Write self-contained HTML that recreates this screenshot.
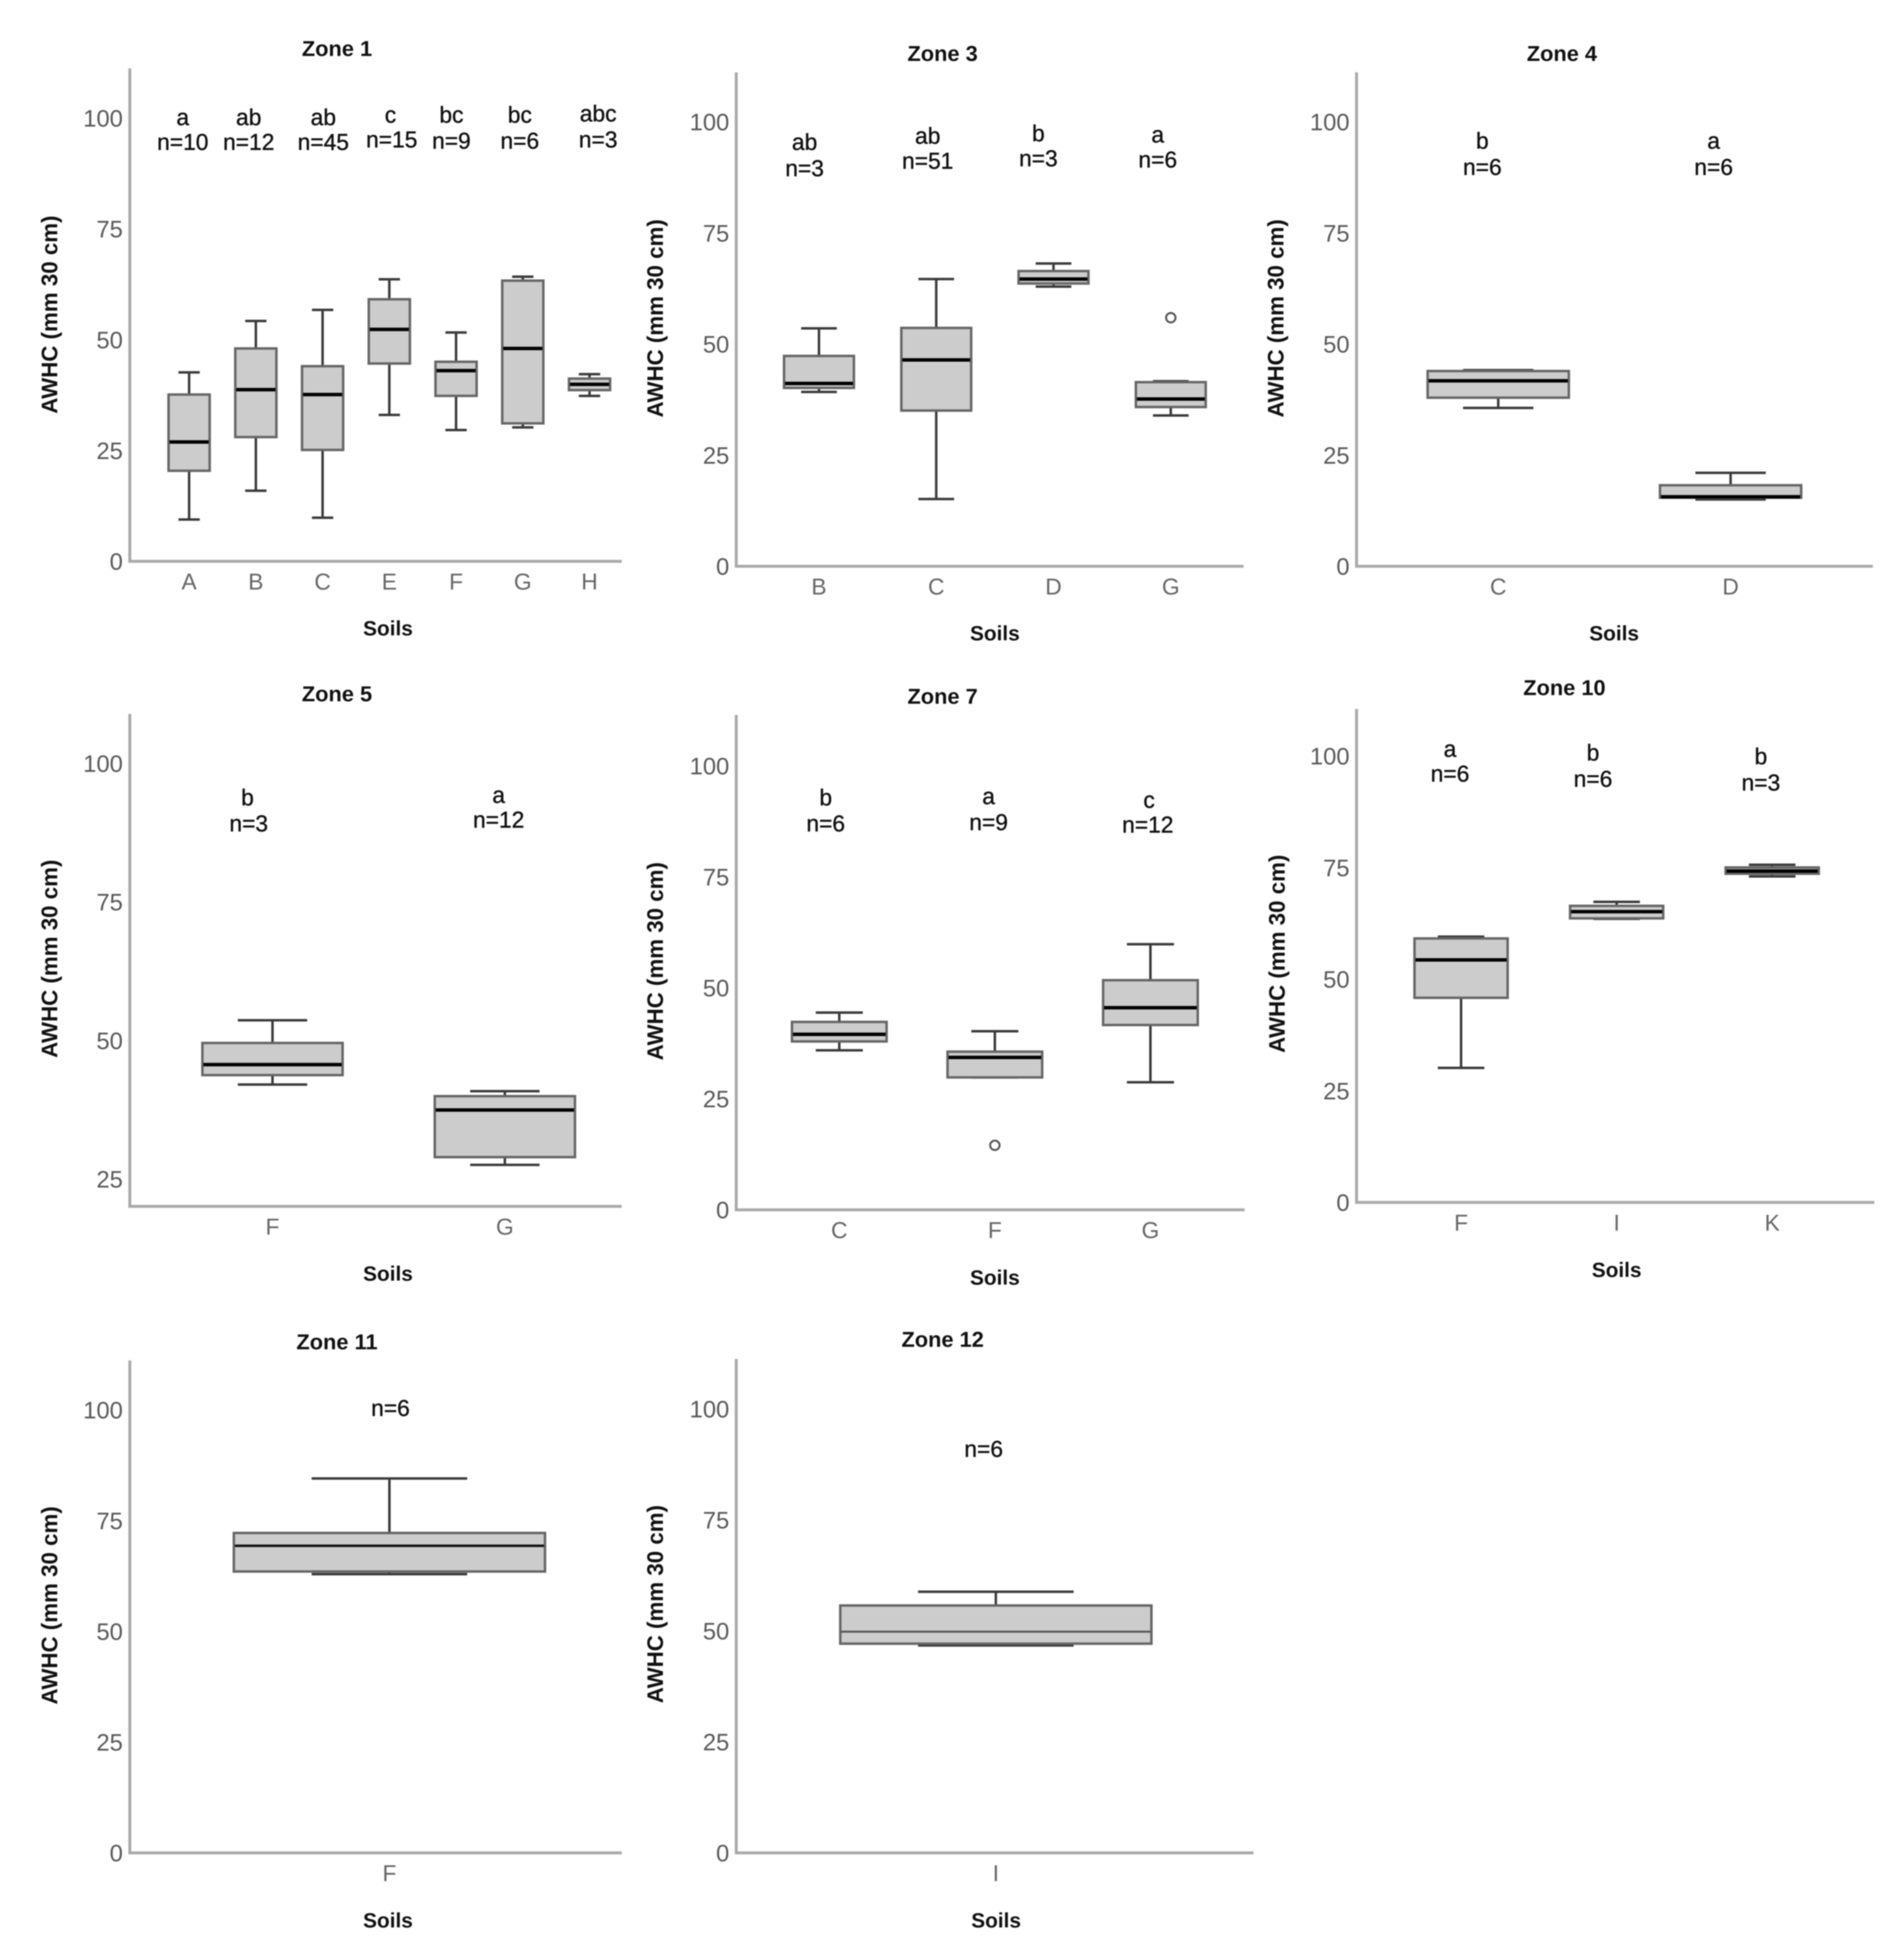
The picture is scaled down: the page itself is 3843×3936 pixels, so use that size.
<!DOCTYPE html>
<html lang="en">
<head>
<meta charset="utf-8">
<title>AWHC by soil for each zone</title>
<style>
html,body{margin:0;padding:0;background:#fff;width:3843px;height:3936px;overflow:hidden}
svg{display:block;filter:blur(1px)}
text{font-family:"Liberation Sans",sans-serif}
</style>
</head>
<body>
<svg id="figure" xmlns="http://www.w3.org/2000/svg" width="3843" height="3936" viewBox="0 0 3843 3936">
<rect x="0" y="0" width="3843" height="3936" fill="#ffffff"/>
</svg>
<script>
const fullTicks = [0, 25, 50, 75, 100];
const zone5Ticks = [25, 50, 75, 100];

const zone1Soils = ['A', 'B', 'C', 'E', 'F', 'G', 'H'];
const zone1High = [42.8, 54.4, 56.9, 63.8, 51.8, 64.4, 42.4];
const zone1Q3 = [37.8, 48.2, 44.2, 59.3, 45.2, 63.5, 41.4];
const zone1Median = [27.1, 38.9, 37.8, 52.5, 43.2, 48.2, 40.1];
const zone1Q1 = [20.6, 28.2, 25.3, 44.8, 37.5, 31.3, 38.8];
const zone1Low = [9.6, 16.1, 10, 33.2, 29.8, 30.4, 37.5];
const zone1Outliers = [null, null, null, null, null, null, null];

const zone3Soils = ['B', 'C', 'D', 'G'];
const zone3High = [53.7, 64.8, 68.3, 41.8];
const zone3Q3 = [47.5, 53.8, 66.6, 41.6];
const zone3Median = [41.3, 46.6, 64.8, 37.8];
const zone3Q1 = [40.3, 35.2, 63.8, 36];
const zone3Low = [39.4, 15.3, 63.1, 34.1];
const zone3Outliers = [null, null, null, 56.1];

const zone4Soils = ['C', 'D'];
const zone4High = [44.3, 21.2];
const zone4Q3 = [44.1, 18.4];
const zone4Median = [41.9, 15.8];
const zone4Q1 = [38.1, 15.6];
const zone4Low = [35.8, 15.2];
const zone4Outliers = [null, null];

const zone5Soils = ['F', 'G'];
const zone5High = [53.8, 41];
const zone5Q3 = [49.7, 40.1];
const zone5Median = [45.8, 37.6];
const zone5Q1 = [43.9, 29.1];
const zone5Low = [42.2, 27.7];
const zone5Outliers = [null, null];

const zone7Soils = ['C', 'F', 'G'];
const zone7High = [44.6, 40.4, 60];
const zone7Q3 = [42.5, 35.8, 51.9];
const zone7Median = [39.7, 34.5, 45.7];
const zone7Q1 = [38.1, 30, 41.8];
const zone7Low = [36.1, 30, 28.9];
const zone7Outliers = [null, 14.7, null];

const zone10Soils = ['F', 'I', 'K'];
const zone10High = [59.7, 67.5, 75.8];
const zone10Q3 = [59.3, 66.6, 75.2];
const zone10Median = [54.5, 65.3, 74.4];
const zone10Q1 = [46, 63.8, 73.8];
const zone10Low = [30.3, 63.7, 73.2];
const zone10Outliers = [null, null, null];

const zone11Soils = ['F'];
const zone11High = [84.7];
const zone11Q3 = [72.4];
const zone11Median = [69.5];
const zone11Q1 = [63.7];
const zone11Low = [63.1];
const zone11Outliers = [null];

const zone12Soils = ['I'];
const zone12High = [59];
const zone12Q3 = [55.9];
const zone12Median = [50];
const zone12Q1 = [47.3];
const zone12Low = [46.9];
const zone12Outliers = [null];

const SVG_NS = 'http://www.w3.org/2000/svg';
const figure = document.getElementById('figure');
const T = 2.51;

function make(tag, attrs, parent, txt) {
  const el = document.createElementNS(SVG_NS, tag);
  for (const k in attrs) el.setAttribute(k, attrs[k]);
  if (txt !== undefined) el.textContent = txt;
  parent.appendChild(el);
  return el;
}

function drawPanel(cfg, soils, high, q3, median, q1, low, outliers, ticks) {
  const g = make('g', {}, figure);
  
  

  const yScale = v => 1.5 + cfg.yRef - (v - cfg.vRef) * (cfg.yRef - cfg.y100) / (100 - cfg.vRef);
  const xScale = i => cfg.first + i * cfg.step;

  const title = make('text', {x: cfg.titleX * T, y: cfg.titleY * T + 15, 'text-anchor': 'middle', 'font-size': 44, 'font-weight': 'bold', fill: '#111'}, g, cfg.title);
  
  

  const yAxis = make('line', {x1: cfg.ax, y1: cfg.top, x2: cfg.ax, y2: cfg.bottom + 3, stroke: '#aaaaaa', 'stroke-width': 6}, g);
  
  

  const xAxis = make('line', {x1: cfg.ax - 3, y1: cfg.bottom, x2: cfg.right, y2: cfg.bottom, stroke: '#aaaaaa', 'stroke-width': 6}, g);
  
  

  ticks.forEach(t => {
    const lab = make('text', {x: cfg.ax - 14, y: yScale(t) + 15.5, 'text-anchor': 'end', 'font-size': 48, fill: '#595959'}, g, String(t));
    
    
  });

  const yTitle = make('text', {transform: 'translate(' + (cfg.yTitleX * T + 15) + ',' + (cfg.yTitleY * T) + ') rotate(-90)', 'text-anchor': 'middle', 'font-size': 45, 'font-weight': 'bold', fill: '#111'}, g, 'AWHC (mm 30 cm)');
  
  

  const xTitle = make('text', {x: cfg.xTitleX * T, y: cfg.xTitleY * T + 15, 'text-anchor': 'middle', 'font-size': 42, 'font-weight': 'bold', fill: '#111'}, g, 'Soils');
  
  

  soils.forEach((soil, i) => {
    const cx = xScale(i);
    const mark = soil.toLowerCase();

    const cat = make('text', {x: cx, y: cfg.bottom + 57, 'text-anchor': 'middle', 'font-size': 46, fill: '#666666'}, g, soil);
    
    

    const stem = make('line', {x1: cx, y1: yScale(high[i]), x2: cx, y2: yScale(low[i]), stroke: '#3a3a3a', 'stroke-width': 5}, g);
    
    

    const capHigh = make('line', {x1: cx - cfg.capW / 2, y1: yScale(high[i]), x2: cx + cfg.capW / 2, y2: yScale(high[i]), stroke: '#3a3a3a', 'stroke-width': 5}, g);
    
    

    const capLow = make('line', {x1: cx - cfg.capW / 2, y1: yScale(low[i]), x2: cx + cfg.capW / 2, y2: yScale(low[i]), stroke: '#3a3a3a', 'stroke-width': 5}, g);
    
    

    const box = make('rect', {x: cx - cfg.boxW / 2, y: yScale(q3[i]), width: cfg.boxW, height: yScale(q1[i]) - yScale(q3[i]), fill: '#cccccc', stroke: '#666666', 'stroke-width': 5}, g);
    
    

    const med = make('line', {x1: cx - cfg.boxW / 2 + 2, y1: yScale(median[i]), x2: cx + cfg.boxW / 2 - 2, y2: yScale(median[i]), stroke: cfg.medColor, 'stroke-width': cfg.medW}, g);
    
    

    if (outliers[i] !== null) {
      const dot = make('circle', {cx: cx, cy: yScale(outliers[i]), r: 9.5, fill: '#ffffff', stroke: '#555555', 'stroke-width': 4}, g);
      
      
    }
  });
  return g;
}

function annotate(g, x, y, txt) {
  const note = make('text', {x: x * T, y: y * T + 14, 'text-anchor': 'middle', 'font-size': 46, fill: '#111111', stroke: '#111111', 'stroke-width': 0.7}, g, txt);
  
  
}

const p1 = drawPanel({slug: 'zone-1', title: 'Zone 1', titleX: 271, titleY: 39, xTitleX: 312, xTitleY: 505, yTitleX: 40, yTitleY: 253,
  ax: 262, top: 138, bottom: 1133, right: 1255, vRef: 0, yRef: 1133, y100: 238.5, first: 381.7, step: 134.7, boxW: 83, capW: 43, medW: 7, medColor: '#000'},
  zone1Soils, zone1High, zone1Q3, zone1Median, zone1Q1, zone1Low, zone1Outliers, fullTicks);
annotate(p1, 147, 95, 'a'); annotate(p1, 147, 115, 'n=10');
annotate(p1, 200, 95, 'ab'); annotate(p1, 200, 115, 'n=12');
annotate(p1, 260, 95, 'ab'); annotate(p1, 260, 115, 'n=45');
annotate(p1, 314, 93, 'c'); annotate(p1, 315, 113, 'n=15');
annotate(p1, 363, 93, 'bc'); annotate(p1, 363, 114, 'n=9');
annotate(p1, 418, 93, 'bc'); annotate(p1, 418, 114, 'n=6');
annotate(p1, 481, 92, 'abc'); annotate(p1, 481, 113, 'n=3');

const p3 = drawPanel({slug: 'zone-3', title: 'Zone 3', titleX: 758, titleY: 43, xTitleX: 800, xTitleY: 509, yTitleX: 527, yTitleY: 256,
  ax: 1486, top: 146, bottom: 1143, right: 2510, vRef: 0, yRef: 1143, y100: 246, first: 1653, step: 236.7, boxW: 141, capW: 72, medW: 7, medColor: '#000'},
  zone3Soils, zone3High, zone3Q3, zone3Median, zone3Q1, zone3Low, zone3Outliers, fullTicks);
annotate(p3, 647, 115, 'ab'); annotate(p3, 647, 136, 'n=3');
annotate(p3, 746, 110, 'ab'); annotate(p3, 746, 130, 'n=51');
annotate(p3, 835, 108, 'b'); annotate(p3, 835, 128, 'n=3');
annotate(p3, 931, 109, 'a'); annotate(p3, 931, 129, 'n=6');

const p4 = drawPanel({slug: 'zone-4', title: 'Zone 4', titleX: 1256, titleY: 43, xTitleX: 1298, xTitleY: 509, yTitleX: 1026, yTitleY: 256,
  ax: 2738, top: 146, bottom: 1143, right: 3780, vRef: 0, yRef: 1143, y100: 246, first: 3024, step: 469, boxW: 285, capW: 142, medW: 7, medColor: '#000'},
  zone4Soils, zone4High, zone4Q3, zone4Median, zone4Q1, zone4Low, zone4Outliers, fullTicks);
annotate(p4, 1192, 114, 'b'); annotate(p4, 1192, 135, 'n=6');
annotate(p4, 1378, 114, 'a'); annotate(p4, 1378, 135, 'n=6');

const p5 = drawPanel({slug: 'zone-5', title: 'Zone 5', titleX: 271, titleY: 558, xTitleX: 312, xTitleY: 1024, yTitleX: 40, yTitleY: 771,
  ax: 262, top: 1441, bottom: 2435, right: 1255, vRef: 25, yRef: 2380, y100: 1541, first: 550, step: 469, boxW: 283, capW: 140, medW: 7, medColor: '#000'},
  zone5Soils, zone5High, zone5Q3, zone5Median, zone5Q1, zone5Low, zone5Outliers, zone5Ticks);
annotate(p5, 199, 642, 'b'); annotate(p5, 200, 663, 'n=3');
annotate(p5, 401, 640, 'a'); annotate(p5, 401, 660, 'n=12');

const p7 = drawPanel({slug: 'zone-7', title: 'Zone 7', titleX: 758, titleY: 560, xTitleX: 800, xTitleY: 1027, yTitleX: 527, yTitleY: 773,
  ax: 1486, top: 1443, bottom: 2442, right: 2512, vRef: 0, yRef: 2442, y100: 1546, first: 1694, step: 314, boxW: 191, capW: 95, medW: 7, medColor: '#000'},
  zone7Soils, zone7High, zone7Q3, zone7Median, zone7Q1, zone7Low, zone7Outliers, fullTicks);
annotate(p7, 664, 642, 'b'); annotate(p7, 664, 663, 'n=6');
annotate(p7, 795, 641, 'a'); annotate(p7, 795, 662, 'n=9');
annotate(p7, 924, 644, 'c'); annotate(p7, 923, 664, 'n=12');

const p10 = drawPanel({slug: 'zone-10', title: 'Zone 10', titleX: 1258, titleY: 553, xTitleX: 1300, xTitleY: 1021, yTitleX: 1027, yTitleY: 767,
  ax: 2738, top: 1431, bottom: 2427, right: 3783, vRef: 0, yRef: 2427, y100: 1526, first: 2949, step: 314, boxW: 188, capW: 94, medW: 7, medColor: '#000'},
  zone10Soils, zone10High, zone10Q3, zone10Median, zone10Q1, zone10Low, zone10Outliers, fullTicks);
annotate(p10, 1166, 603, 'a'); annotate(p10, 1166, 623, 'n=6');
annotate(p10, 1281, 606, 'b'); annotate(p10, 1281, 627, 'n=6');
annotate(p10, 1416, 609, 'b'); annotate(p10, 1416, 630, 'n=3');

const p11 = drawPanel({slug: 'zone-11', title: 'Zone 11', titleX: 271, titleY: 1079, xTitleX: 312, xTitleY: 1544, yTitleX: 40, yTitleY: 1291,
  ax: 262, top: 2746, bottom: 3740, right: 1255, vRef: 0, yRef: 3740, y100: 2846, first: 786, step: 0, boxW: 628, capW: 314, medW: 5, medColor: '#111'},
  zone11Soils, zone11High, zone11Q3, zone11Median, zone11Q1, zone11Low, zone11Outliers, fullTicks);
annotate(p11, 314, 1133, 'n=6');

const p12 = drawPanel({slug: 'zone-12', title: 'Zone 12', titleX: 758, titleY: 1077, xTitleX: 801, xTitleY: 1544, yTitleX: 527, yTitleY: 1290,
  ax: 1486, top: 2743, bottom: 3740, right: 2530, vRef: 0, yRef: 3740, y100: 2844, first: 2010, step: 0, boxW: 628, capW: 314, medW: 4, medColor: '#555'},
  zone12Soils, zone12High, zone12Q3, zone12Median, zone12Q1, zone12Low, zone12Outliers, fullTicks);
annotate(p12, 791, 1166, 'n=6');
</script>
</body>
</html>
